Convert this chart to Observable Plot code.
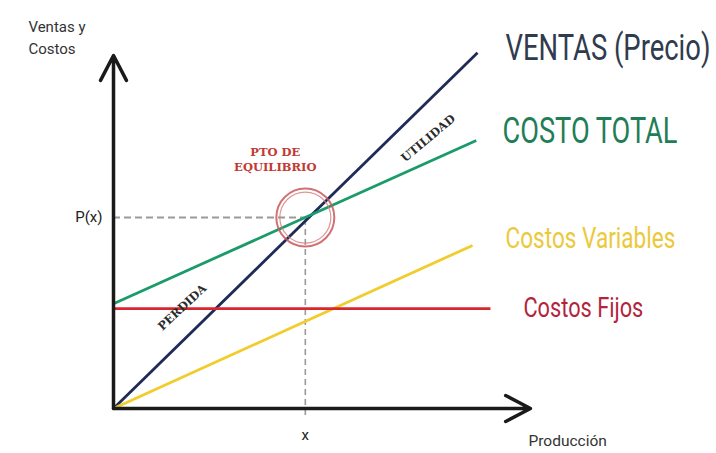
<!DOCTYPE html>
<html>
<head>
<meta charset="utf-8">
<script src="https://cdn.jsdelivr.net/npm/d3@7"></script>
<script src="https://cdn.jsdelivr.net/npm/@observablehq/plot@0.6"></script>
<style>
  html, body { margin: 0; padding: 0; background: #fff; }
</style>
</head>
<body>
<div id="chart"></div>
<script>
// ---- data (production vs. sales/costs, arbitrary units) ----
const seriesNames = ["VENTAS (Precio)", "COSTO TOTAL", "Costos Variables", "Costos Fijos"];
const startX = [0, 0, 0, 0];
const startY = [0, 2.97, 0, 2.83];
const endX   = [8.73, 8.70, 8.61, 9.04];
const endY   = [10.08, 7.59, 4.62, 2.83];
const breakevenX = 4.60;
const breakevenY = 5.41;
const tickLabelX = "x";
const tickLabelY = "P(x)";
const axisTitleY = "Ventas y\nCostos";
const axisTitleX = "Producción";
const annotations = ["PTO DE\nEQUILIBRIO", "UTILIDAD", "PERDIDA"];

// ---- styling ----
const lineColors  = ["#1e2b57", "#1b9a6a", "#f1cc2c", "#d8262e"];
const labelColors = ["#313b4e", "#1f7d57", "#ecc93a", "#b3243c"];
const labelPos = [[9.40, 10.20], [9.33, 7.85], [9.40, 4.82], [9.83, 2.83]];
const labelSize = [36, 36, 30, 27];
const labelWidth = [205, 175, 170, 120];
const annotPos = [[3.88, 7.08], [7.53, 7.68], [1.63, 2.89]];
const annotRotate = [0, -40, -43];
const annotColor = ["#c23a35", "#2a2a2a", "#2a2a2a"];

const lines = seriesNames.map((name, i) => ({name, x1: startX[i], y1: startY[i], x2: endX[i], y2: endY[i], color: lineColors[i]}));
const labels = seriesNames.map((name, i) => ({name, x: labelPos[i][0], y: labelPos[i][1], color: labelColors[i], size: labelSize[i]}));
const annots = annotations.map((t, i) => ({t, x: annotPos[i][0], y: annotPos[i][1], rotate: annotRotate[i], color: annotColor[i]}));
const axes = [{x1: 0, y1: 0, x2: 10, y2: 0}, {x1: 0, y1: 0, x2: 0, y2: 10}];

const chart = Plot.plot({
  width: 716,
  height: 453,
  marginLeft: 113,
  marginRight: 186,
  marginTop: 55,
  marginBottom: 45,
  style: {fontFamily: "Roboto, sans-serif", background: "white", overflow: "visible"},
  x: {domain: [0, 10]},
  y: {domain: [0, 10]},
  marks: [
    // dashed guides
    Plot.ruleY([breakevenY], {x1: 0, x2: breakevenX, stroke: "#9a9a9a", strokeWidth: 2, strokeDasharray: "7,4"}),
    Plot.ruleX([breakevenX], {y1: -0.2, y2: breakevenY, stroke: "#9a9a9a", strokeWidth: 1.6, strokeDasharray: "6,4"}),
    // series lines
    ...lines.map(d => Plot.link([d], {x1: "x1", y1: "y1", x2: "x2", y2: "y2", stroke: d.color, strokeWidth: 2.8})),
    // axes with arrows
    Plot.arrow(axes, {x1: "x1", y1: "y1", x2: "x2", y2: "y2", stroke: "#1a1a1a", strokeWidth: 3.5, headLength: 12, headAngle: 55}),
    // break-even circle
    Plot.dot([{x: breakevenX, y: breakevenY}], {x: "x", y: "y", r: 29, stroke: "#c9585c", strokeWidth: 2, fill: "none", strokeOpacity: 0.85}),
    Plot.dot([{x: breakevenX, y: breakevenY}], {x: "x", y: "y", r: 25.5, stroke: "#d77a7c", strokeWidth: 1.2, fill: "none", strokeOpacity: 0.8}),
    // ticks
    Plot.axisX([breakevenX], {tickFormat: () => tickLabelX, tickSize: 0, tickPadding: 21, fontSize: 15, label: null, fill: "#222"}),
    Plot.axisY([breakevenY], {tickFormat: () => tickLabelY, tickSize: 0, tickPadding: 11, fontSize: 15, label: null, fill: "#222"}),
    // axis titles
    Plot.text([axisTitleY], {x: -2.04, y: 11.1, text: d => d, textAnchor: "start", lineAnchor: "top", fontSize: 15, lineHeight: 1.45, fill: "#333"}),
    Plot.text([axisTitleX], {x: 9.95, y: -0.93, text: d => d, textAnchor: "start", lineAnchor: "middle", fontSize: 15.5, fill: "#333"}),
    // series labels
    ...labels.map(d => Plot.text([d], {x: "x", y: "y", text: "name", textAnchor: "start", lineAnchor: "middle", fill: d.color, fontSize: d.size})),
    // annotations
    ...annots.map(d => Plot.text([d], {x: "x", y: "y", text: "t", rotate: d.rotate, fill: d.color, fontSize: 11.5, fontWeight: "bold", fontFamily: "DejaVu Serif", lineHeight: 1.35, lineAnchor: "middle"}))
  ]
});

document.getElementById("chart").appendChild(chart);

// condense the series labels: shrink the font to the target width, then stretch vertically back
const fit = {};
seriesNames.forEach((n, i) => fit[n] = {w: labelWidth[i], s: labelSize[i]});
d3.select(chart).selectAll("text").each(function() {
  const f = fit[this.textContent];
  if (!f) return;
  const natural = this.getComputedTextLength();
  if (!natural) return;
  const newSize = f.s * f.w / natural;
  const k = f.s / newSize;
  this.setAttribute("font-size", newSize);
  this.style.fontSize = newSize + "px";
  const t = this.getAttribute("transform") || "";
  this.setAttribute("transform", t + ` scale(1,${k})`);
});
</script>
</body>
</html>
